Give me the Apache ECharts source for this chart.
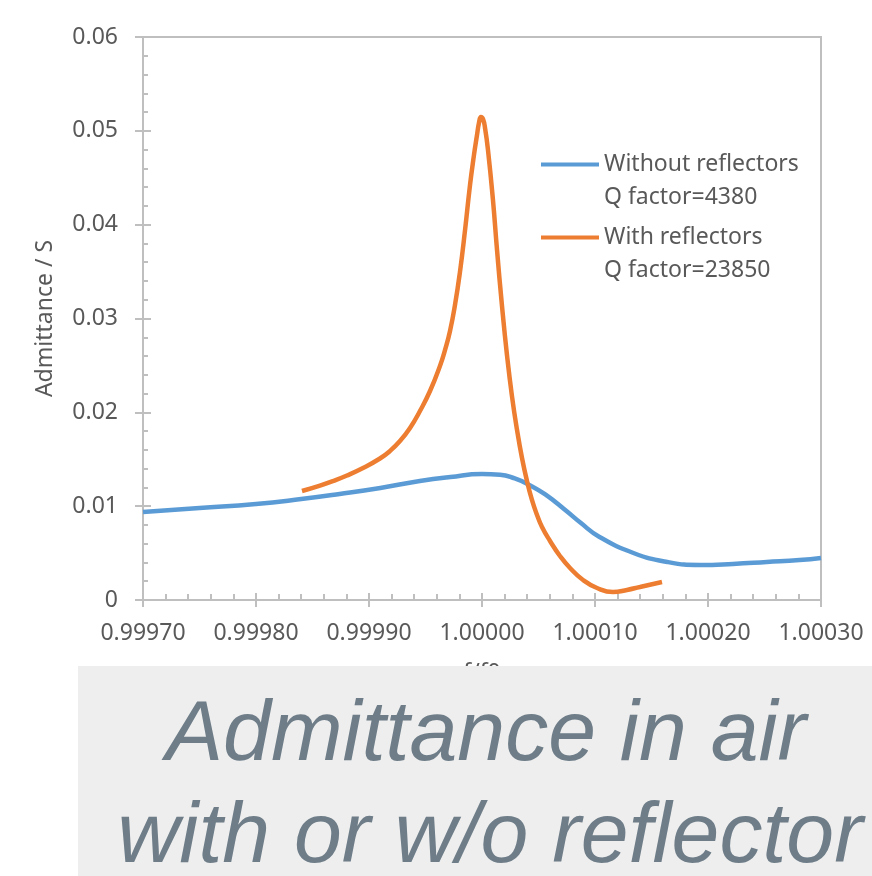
<!DOCTYPE html>
<html>
<head>
<meta charset="utf-8">
<script src="https://cdn.jsdelivr.net/npm/echarts@6/dist/echarts.min.js"></script>
<style>
  html, body { margin: 0; padding: 0; background: #fff; }
  #chart { width: 872px; height: 876px; }
</style>
</head>
<body>
<div id="chart"></div>
<script>
// frequency ratio f/f0 and admittance (S)
const blueF = [0.99970, 0.99975, 0.99980, 0.99984, 0.999874, 0.99991, 0.999945, 0.999972, 1.00000, 1.000016, 1.000029, 1.000041,
  1.000056, 1.000075, 1.000087, 1.000104, 1.000134, 1.000164, 1.000193, 1.000222, 1.000252, 1.000281, 1.00030]
const blueY = [0.00938, 0.0098, 0.01023, 0.01076, 0.0113, 0.01194, 0.01268, 0.01311, 0.01343, 0.01336, 0.01295, 0.01232,
  0.01125, 0.00945, 0.00825, 0.00672, 0.00501, 0.00405, 0.00373, 0.00384, 0.00405, 0.00426, 0.00448]

const orangeF = [0.9998407, 0.9998566, 0.9998681, 0.9998805, 0.9998947, 0.9999097, 0.9999186, 0.9999274, 0.9999363,
  0.9999451, 0.999954, 0.9999628, 0.9999673, 0.9999717, 0.9999761, 0.9999805, 0.999985, 0.9999894, 0.9999929,
  0.9999956, 0.9999973, 0.9999991, 1.0000009, 1.0000027, 1.0000053, 1.0000097, 1.0000133, 1.0000177, 1.0000221,
  1.0000265, 1.000031, 1.0000354, 1.0000398, 1.0000442, 1.0000487, 1.0000531, 1.0000602, 1.000069, 1.0000779,
  1.0000894, 1.0001018, 1.0001159, 1.0001283, 1.0001398, 1.0001593]
const orangeY = [0.01162, 0.0122, 0.01268, 0.01327, 0.01407, 0.01508, 0.01588, 0.01694, 0.01833,
  0.02014, 0.02227, 0.02494, 0.02665, 0.02867, 0.03144, 0.03496, 0.03943, 0.04423, 0.04742,
  0.04956, 0.05083, 0.05148, 0.05126, 0.0503, 0.04796, 0.04263, 0.0373, 0.03133, 0.02611,
  0.02174, 0.01812, 0.01513, 0.01268, 0.01066, 0.00906, 0.00778, 0.00629, 0.00469, 0.00341,
  0.00213, 0.00128, 0.00085, 0.00107, 0.00139, 0.00192]

const seriesNames = ['Without reflectors\nQ factor=4380', 'With reflectors\nQ factor=23850']
const captionLines = ['Admittance in air', 'with or w/o reflector']

const pairs = (xs, ys) => xs.map((x, i) => [x, ys[i]])

const axisColor = '#bfbfbf'
const textColor = '#595959'
const font = 'Noto Sans'

const chart = echarts.init(document.getElementById('chart'))

const option = {
  animation: false,
  grid: {
    left: 143,
    right: 51,
    top: 37,
    bottom: 276,
    show: true,
    borderColor: axisColor,
    borderWidth: 2
  },
  legend: {
    orient: 'vertical',
    left: 536,
    top: 110,
    icon: 'rect',
    itemWidth: 58,
    itemHeight: 4,
    itemGap: -26,
    // empty first line so the icon lines up with the series name, not the middle of the block
    formatter: name => '\n' + name,
    textStyle: {
      color: textColor,
      fontSize: 23,
      fontFamily: font,
      lineHeight: 33
    },
    data: seriesNames
  },
  xAxis: [
    {
      type: 'value',
      min: 0.9997,
      max: 1.0003,
      interval: 0.0001,
      name: 'f/f0',
      nameLocation: 'middle',
      nameGap: 62,
      nameTextStyle: { color: textColor, fontSize: 23, fontFamily: font },
      axisLine: { lineStyle: { color: axisColor, width: 2 } },
      axisTick: { inside: true, length: 7, lineStyle: { color: axisColor, width: 2 } },
      minorTick: { show: true, splitNumber: 5, length: 6, lineStyle: { color: axisColor, width: 2 } },
      splitLine: { show: false },
      axisLabel: {
        color: textColor,
        fontSize: 23,
        fontFamily: font,
        margin: 22,
        formatter: v => v.toFixed(5)
      }
    },
    {
      type: 'value',
      position: 'bottom',
      min: 0.9997,
      max: 1.0003,
      interval: 0.0001,
      axisLine: { show: false },
      axisTick: { inside: false, length: 7, lineStyle: { color: axisColor, width: 2 } },
      axisLabel: { show: false },
      splitLine: { show: false }
    }
  ],
  yAxis: [
    {
      type: 'value',
      min: 0,
      max: 0.06,
      interval: 0.01,
      name: 'Admittance / S',
      nameLocation: 'middle',
      nameGap: 86,
      nameTextStyle: { color: textColor, fontSize: 23, fontFamily: font },
      axisLine: { show: true, lineStyle: { color: axisColor, width: 2 } },
      axisTick: { show: true, inside: true, length: 8, lineStyle: { color: axisColor, width: 2 } },
      minorTick: { show: true, splitNumber: 5, length: 5, lineStyle: { color: axisColor, width: 2 } },
      splitLine: { show: false },
      axisLabel: { color: textColor, fontSize: 23, fontFamily: font, margin: 25 }
    },
    {
      type: 'value',
      position: 'left',
      min: 0,
      max: 0.06,
      interval: 0.01,
      axisLine: { show: false },
      axisTick: { show: true, inside: false, length: 8, lineStyle: { color: axisColor, width: 2 } },
      axisLabel: { show: false },
      splitLine: { show: false }
    }
  ],
  series: [
    {
      name: seriesNames[0],
      type: 'line',
      symbol: 'none',
      smooth: 0.5,
      lineStyle: { color: '#5b9bd5', width: 4.5 },
      itemStyle: { color: '#5b9bd5' },
      data: pairs(blueF, blueY)
    },
    {
      name: seriesNames[1],
      type: 'line',
      symbol: 'none',
      smooth: 0.5,
      lineStyle: { color: '#ed7d31', width: 4.5 },
      itemStyle: { color: '#ed7d31' },
      data: pairs(orangeF, orangeY)
    }
  ],
  graphic: [
    {
      type: 'rect',
      z: 100,
      shape: { x: 78, y: 666, width: 794, height: 210 },
      style: { fill: '#eeeeee' }
    },
    {
      type: 'text',
      z: 101,
      x: 486,
      y: 736,
      style: {
        text: captionLines[0],
        fill: '#6e7d88',
        font: 'italic 86px "Liberation Sans"',
        align: 'center',
        verticalAlign: 'middle'
      }
    },
    {
      type: 'text',
      z: 101,
      x: 490,
      y: 838,
      style: {
        text: captionLines[1],
        fill: '#6e7d88',
        font: 'italic 86px "Liberation Sans"',
        align: 'center',
        verticalAlign: 'middle'
      }
    }
  ]
}

chart.setOption(option)
</script>
</body>
</html>
